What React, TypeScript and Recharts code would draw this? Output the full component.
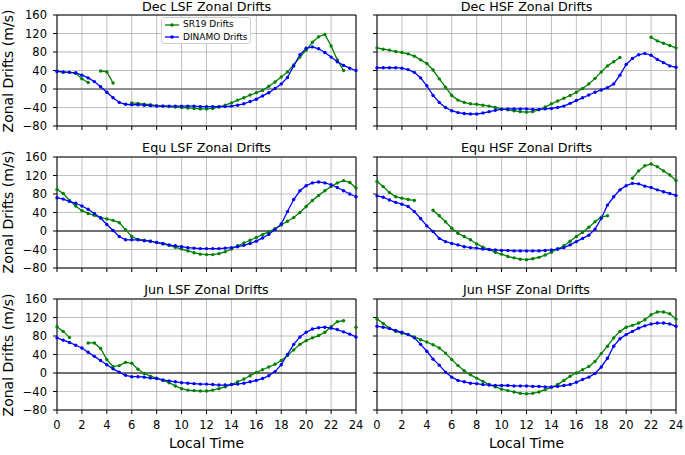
import { LineChart, Line, XAxis, YAxis, CartesianGrid, ReferenceLine } from 'recharts';

const HOURS = [0, 0.5, 1, 1.5, 2, 2.5, 3, 3.5, 4, 4.5, 5, 5.5, 6, 6.5, 7, 7.5, 8, 8.5, 9, 9.5, 10, 10.5, 11, 11.5, 12,
  12.5, 13, 13.5, 14, 14.5, 15, 15.5, 16, 16.5, 17, 17.5, 18, 18.5, 19, 19.5, 20, 20.5, 21, 21.5, 22, 22.5, 23, 23.5, 24];
const X_TICKS = [0, 2, 4, 6, 8, 10, 12, 14, 16, 18, 20, 22, 24];
const Y_TICKS = [-80, -40, 0, 40, 80, 120, 160];

// SR19 (green) and DINAMO (blue) zonal drifts, m/s, every half hour
const decLsfSr19 = [39, 36, 36, 34, 22, 14, null, 39, 37, 13, null, null, -30, -31, -33, -34, -36, -37, -38, -39, -40, -41, -42, -43, -43,
  -42, -39, -35, -30, -24, -19, -13, -8, -3, 6, 15, 26, 37, 52, 69, 84, 101, 113, 118, 93, 63, 40, null, null];
const decLsfDinamo = [38, 37, 36, 35, 30, 24, 16, 5, -7, -19, -29, -33, -34, -34, -35, -36, -37, -37, -37, -37, -37, -37, -37, -38, -38,
  -38, -38, -38, -37, -35, -32, -27, -22, -15, -8, 1, 11, 25, 50, 74, 88, 91, 87, 79, 69, 59, 51, 45, 40];

const decHsfSr19 = [89, 86, 84, 81, 79, 76, 71, 63, 55, 41, 22, 4, -14, -24, -29, -32, -33, -35, -37, -40, -43, -45, -47, -49, -50,
  -49, -45, -39, -32, -26, -20, -14, -7, 1, 11, 23, 37, 50, 59, 68, null, null, null, null, 112, 104, 99, 94, 89];
const decHsfDinamo = [46, 46, 46, 46, 45, 42, 36, 24, 7, -14, -29, -40, -47, -51, -53, -54, -54, -52, -49, -46, -44, -43, -43, -43, -43,
  -44, -44, -43, -42, -40, -37, -31, -25, -19, -13, -7, -2, 3, 11, 30, 53, 66, 74, 77, 73, 64, 57, 50, 47];

const equLsfSr19 = [90, 81, 66, 54, 44, 38, 34, 29, 26, 23, 18, 3, -12, -18, -20, -22, -25, -28, -31, -35, -39, -43, -47, -50, -51,
  -51, -49, -45, -39, -32, -26, -20, -14, -8, -2, 5, 13, 21, 29, 40, 53, 66, 77, 87, 96, 104, 109, 105, 93];
const equLsfDinamo = [72, 69, 64, 60, 54, 47, 38, 28, 14, 1, -12, -19, -19, -19, -21, -22, -25, -27, -30, -32, -34, -36, -37, -38, -38,
  -38, -38, -37, -36, -34, -31, -27, -22, -15, -7, 3, 15, 42, 68, 87, 98, 104, 106, 104, 100, 94, 87, 80, 74];

const equHsfSr19 = [107, 96, 83, 74, 71, 68, 66, null, null, 45, 33, 20, 6, -5, -12, -19, -28, -35, -40, -46, -50, -55, -58, -61, -62,
  -60, -57, -52, -46, -39, -32, -22, -12, -3, 8, 20, 30, 33, null, null, null, 114, 130, 141, 145, 139, 130, 121, 109];
const equHsfDinamo = [76, 73, 67, 62, 58, 53, 42, 27, 11, -1, -16, -23, -27, -30, -34, -36, -37, -39, -40, -41, -42, -42, -43, -43, -43,
  -43, -43, -42, -41, -39, -36, -30, -23, -16, -9, 4, 27, 56, 74, 89, 98, 103, 102, 97, 94, 89, 85, 81, 77];

const junLsfSr19 = [100, 90, 77, null, null, 65, 65, 53, 29, 14, 16, 23, 21, 8, -1, -7, -11, -16, -21, -28, -34, -37, -38, -39, -39,
  -37, -34, -30, -25, -19, -13, -6, 1, 7, 13, 19, 27, 38, 50, 62, 70, 76, 81, 88, 100, 111, 113, null, 99];
const junLsfDinamo = [76, 71, 66, 60, 54, 45, 36, 27, 18, 9, 2, -5, -8, -8, -9, -11, -12, -15, -17, -19, -21, -22, -23, -24, -24,
  -25, -26, -26, -25, -24, -22, -19, -16, -12, -6, 3, 18, 40, 62, 78, 88, 95, 98, 99, 97, 94, 89, 84, 78];

const junHsfSr19 = [117, 107, 97, 90, 86, 83, 78, 72, 67, 61, 54, 43, 29, 16, 5, -4, -11, -18, -25, -30, -35, -38, -41, -44, -45,
  -44, -41, -36, -31, -25, -16, -7, 0, 7, 14, 25, 42, 58, 76, 90, 99, 103, 108, 115, 126, 132, 132, 128, 117];
const junHsfDinamo = [101, 99, 96, 92, 88, 83, 76, 62, 47, 30, 17, 2, -9, -16, -19, -22, -23, -25, -26, -27, -27, -27, -28, -28, -28,
  -29, -29, -30, -30, -29, -27, -25, -20, -14, -9, -1, 13, 32, 58, 74, 83, 90, 97, 102, 106, 108, 108, 106, 101];

const GREEN = '#008000';
const BLUE = '#0000ff';
const FONT = '"DejaVu Sans", sans-serif';

const PLOT_W = 299;
const PLOT_H = 111;
const ROW_TOPS = [15, 156.5, 299];
const COL_LEFTS = [57, 377];

type PanelProps = {
  title: string;
  sr19: (number | null)[];
  dinamo: (number | null)[];
  col: number;
  row: number;
  legend?: boolean;
};

function Panel({ title, sr19, dinamo, col, row, legend }: PanelProps) {
  const data = HOURS.map((t, i) => ({ t, sr19: sr19[i], dinamo: dinamo[i] }));
  const isLeft = col === 0;
  const isBottom = row === 2;
  const yw = isLeft ? 57 : 10;
  const rightMargin = isLeft ? 10 : 9;
  const xh = isBottom ? 24 : 8;
  const plotLeft = COL_LEFTS[col];
  const plotTop = ROW_TOPS[row];
  const zeroStroke = row === 0 ? '#777' : '#000';
  const zeroWidth = row === 0 ? 1.6 : 1;

  return (
    <>
      <div
        style={{
          position: 'absolute', left: plotLeft, top: Math.max(0, plotTop - 16), width: PLOT_W, textAlign: 'center',
          fontFamily: FONT, fontSize: 12.7, lineHeight: '14px', color: '#000', whiteSpace: 'nowrap',
        }}
      >
        {title}
      </div>
      <div style={{ position: 'absolute', left: plotLeft - yw, top: plotTop - 10 }}>
        <LineChart width={yw + PLOT_W + rightMargin} height={10 + PLOT_H + xh} data={data}
          margin={{ top: 10, right: rightMargin, bottom: 0, left: 0 }}>
          <CartesianGrid stroke="#b0b0b0" strokeWidth={0.8} />
          <XAxis dataKey="t" type="number" domain={[0, 24]} ticks={X_TICKS} interval={0} height={xh}
            tick={{ fontSize: 11.5, fill: '#000', fontFamily: FONT }} tickSize={4} tickMargin={7}
            stroke="#000" tickFormatter={(v) => (isBottom ? String(v) : '')} />
          <YAxis type="number" domain={[-80, 160]} ticks={Y_TICKS} interval={0} width={yw}
            tick={{ fontSize: 11.5, fill: '#000', fontFamily: FONT }} tickSize={4} tickMargin={6}
            stroke="#000" tickFormatter={(v) => (isLeft ? String(v).replace('-', '\u2212') : '')} />
          <ReferenceLine y={0} stroke={zeroStroke} strokeWidth={zeroWidth} />
          <ReferenceLine y={160} stroke="#000" />
          <ReferenceLine x={24} stroke="#000" />
          <Line type="linear" dataKey="sr19" stroke={GREEN} strokeWidth={1.3} connectNulls={false}
            dot={{ r: 1.7, fill: GREEN, stroke: 'none' }} isAnimationActive={false} />
          <Line type="linear" dataKey="dinamo" stroke={BLUE} strokeWidth={1.3} connectNulls={false}
            dot={{ r: 1.7, fill: BLUE, stroke: 'none' }} isAnimationActive={false} />
        </LineChart>
      </div>
      {isLeft && (
        <div
          style={{
            position: 'absolute', left: 8, top: plotTop + PLOT_H / 2, transform: 'translate(-50%, -50%) rotate(-90deg)',
            fontFamily: FONT, fontSize: 14, lineHeight: '16px', whiteSpace: 'nowrap', color: '#000',
          }}
        >
          Zonal Drifts (m/s)
        </div>
      )}
      {isBottom && (
        <div
          style={{
            position: 'absolute', left: plotLeft, top: 435, width: PLOT_W, textAlign: 'center',
            fontFamily: FONT, fontSize: 14, lineHeight: '16px', color: '#000',
          }}
        >
          Local Time
        </div>
      )}
      {legend && (
        <div
          style={{
            position: 'absolute', left: 161, top: 17, width: 88, height: 25, background: '#fff',
            border: '1px solid #d0d0d0', borderRadius: 3, fontFamily: FONT, fontSize: 9, color: '#000',
          }}
        >
          {[{ name: 'SR19 Drifts', color: GREEN }, { name: 'DINAMO Drifts', color: BLUE }].map((e) => (
            <div key={e.name} style={{ display: 'flex', alignItems: 'center', height: 11.5, marginTop: 1 }}>
              <svg width={18} height={8} style={{ marginLeft: 2 }}>
                <line x1={1} y1={4} x2={15} y2={4} stroke={e.color} strokeWidth={1.3} />
                <circle cx={8} cy={4} r={1.7} fill={e.color} />
              </svg>
              <span style={{ marginLeft: 1, lineHeight: '11px' }}>{e.name}</span>
            </div>
          ))}
        </div>
      )}
    </>
  );
}

export default function App() {
  return (
    <div style={{ position: 'absolute', left: 0, top: 0, width: 685, height: 455, background: '#fff', overflow: 'hidden' }}>
      <Panel title="Dec LSF Zonal Drifts" sr19={decLsfSr19} dinamo={decLsfDinamo} col={0} row={0} legend />
      <Panel title="Dec HSF Zonal Drifts" sr19={decHsfSr19} dinamo={decHsfDinamo} col={1} row={0} />
      <Panel title="Equ LSF Zonal Drifts" sr19={equLsfSr19} dinamo={equLsfDinamo} col={0} row={1} />
      <Panel title="Equ HSF Zonal Drifts" sr19={equHsfSr19} dinamo={equHsfDinamo} col={1} row={1} />
      <Panel title="Jun LSF Zonal Drifts" sr19={junLsfSr19} dinamo={junLsfDinamo} col={0} row={2} />
      <Panel title="Jun HSF Zonal Drifts" sr19={junHsfSr19} dinamo={junHsfDinamo} col={1} row={2} />
    </div>
  );
}
